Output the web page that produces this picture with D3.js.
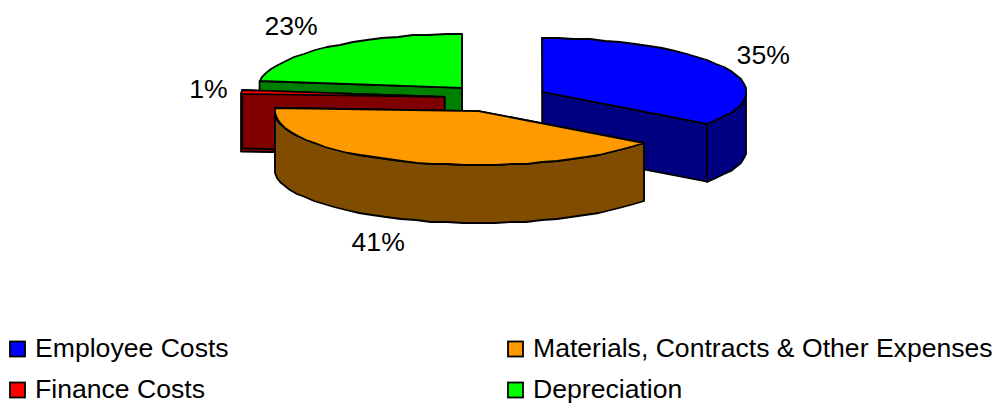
<!DOCTYPE html>
<html>
<head>
<meta charset="utf-8">
<script src="https://d3js.org/d3.v7.min.js"></script>
<style>
  html, body { margin: 0; padding: 0; background: #fff; }
  svg { display: block; }
  text { font-family: "Liberation Sans", Arial, sans-serif; font-size: 26.6px; fill: #000; }
</style>
</head>
<body>
<svg id="chart" width="998" height="403"></svg>
<script>
const categories = ["Employee Costs", "Materials, Contracts & Other Expenses", "Finance Costs", "Depreciation"];
const values = [35, 41, 1, 23];
const topColors = ["#0000ff", "#ff9900", "#ff0000", "#00ff00"];
const sideColors = ["#000080", "#7f4c00", "#800000", "#008000"];

// pie geometry, worked out from the picture
const cx = 496.2, cy = 98.2;
const rx = 204, ry = 54;
const depth = 58;
const explode = 0.254;

const svg = d3.select("#chart");

const slices = d3.pie().sort(null).value(d => d)(values).map((s, i) => {
  let mid = (s.startAngle + s.endAngle) / 2;
  return {
    i: i,
    start: s.startAngle,
    end: s.endAngle,
    mid: mid,
    ax: cx + Math.sin(mid) * rx * explode,
    ay: cy - Math.cos(mid) * ry * explode
  };
});

function rim(s, a) {
  return [s.ax + Math.sin(a) * rx, s.ay - Math.cos(a) * ry];
}

// coarse steps + whole pixels, that gives the slightly wobbly edge of the original
function arcPoints(s, a0, a1) {
  let n = Math.max(1, Math.round((a1 - a0) / (Math.PI / 40)));
  return d3.range(n + 1).map(k => {
    let p = rim(s, a0 + (a1 - a0) * k / n);
    return [Math.round(p[0]), Math.round(p[1])];
  });
}

const line = d3.line();

function drawShape(points, fill, width) {
  svg.append("path")
    .attr("d", line(points) + "Z")
    .attr("fill", fill)
    .attr("stroke", "#000")
    .attr("stroke-width", width)
    .attr("stroke-linejoin", "round");
}

function drop(points) {
  return points.map(p => [p[0], p[1] + depth]);
}

// back to front
[3, 2, 0, 1].forEach(i => {
  let s = slices[i];
  let side = sideColors[i];
  let apex = [s.ax, s.ay];

  // the two cut faces
  [s.start, s.end].forEach(a => {
    let p = rim(s, a);
    drawShape([apex, p, [p[0], p[1] + depth], [apex[0], apex[1] + depth]], side, 1.8);
  });

  // outer wall, only the part facing us (90 to 270 degrees)
  let w0 = Math.max(s.start, Math.PI / 2);
  let w1 = Math.min(s.end, Math.PI * 1.5);
  if (w1 > w0) {
    let front = arcPoints(s, w0, w1);
    drawShape(front.concat(drop(front).reverse()), side, 1.8);
  }

  // top
  drawShape([apex].concat(arcPoints(s, s.start, s.end)), topColors[i], 1.8);
});

// percent labels
slices.forEach(s => {
  let p = rim(s, s.mid);
  let sx = Math.sin(s.mid), cs = Math.cos(s.mid);
  let t = svg.append("text")
    .attr("text-anchor", "middle")
    .text(values[s.i] + "%");
  let half = t.node().getComputedTextLength() / 2;
  t.attr("x", p[0] + Math.sign(sx) * half + sx * 14)
    .attr("y", p[1] + (cs < 0 ? depth : 0) - cs * (cs > 0 ? 28 : 24) + 9);
});

// legend, 2 x 2
const legendX = d3.scaleOrdinal().domain([0, 1]).range([10, 508]);
const legendY = d3.scaleOrdinal().domain([0, 1]).range([349, 390]);
const swatch = 15;

categories.forEach((c, i) => {
  let col = i % 2, row = Math.floor(i / 2);
  svg.append("rect")
    .attr("x", legendX(col))
    .attr("y", legendY(row) - swatch / 2)
    .attr("width", swatch)
    .attr("height", swatch)
    .attr("fill", topColors[i])
    .attr("stroke", "#000")
    .attr("stroke-width", 1.8);
  svg.append("text")
    .attr("x", legendX(col) + 25)
    .attr("y", legendY(row) + 8)
    .text(c);
});
</script>
</body>
</html>
